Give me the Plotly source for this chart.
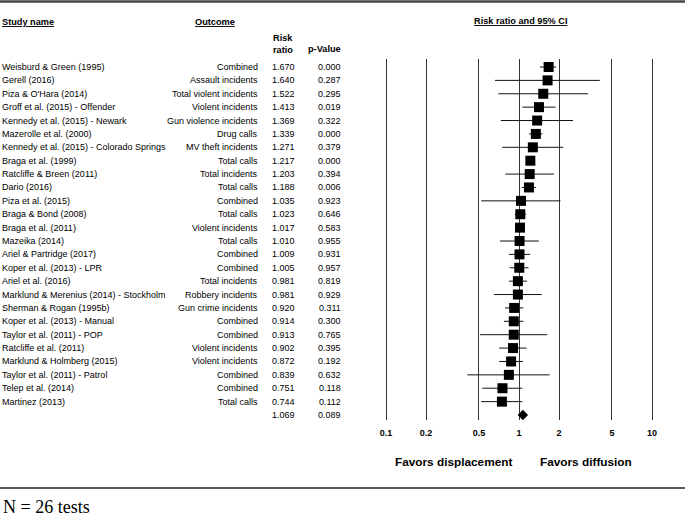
import plotly.graph_objects as go

studies = [
    "Weisburd & Green (1995)", "Gerell (2016)", "Piza & O'Hara (2014)",
    "Groff et al. (2015) - Offender", "Kennedy et al. (2015) - Newark",
    "Mazerolle et al. (2000)", "Kennedy et al. (2015) - Colorado Springs",
    "Braga et al. (1999)", "Ratcliffe & Breen (2011)", "Dario (2016)",
    "Piza et al. (2015)", "Braga & Bond (2008)", "Braga et al. (2011)",
    "Mazeika (2014)", "Ariel & Partridge (2017)", "Koper et al. (2013) - LPR",
    "Ariel et al. (2016)", "Marklund & Merenius (2014) - Stockholm",
    "Sherman & Rogan (1995b)", "Koper et al. (2013) - Manual",
    "Taylor et al. (2011) - POP", "Ratcliffe et al. (2011)",
    "Marklund & Holmberg (2015)", "Taylor et al. (2011) - Patrol",
    "Telep et al. (2014)", "Martinez (2013)",
]
outcomes = [
    "Combined", "Assault incidents", "Total violent incidents", "Violent incidents",
    "Gun violence incidents", "Drug calls", "MV theft incidents", "Total calls",
    "Total incidents", "Total calls", "Combined", "Total calls", "Violent incidents",
    "Total calls", "Combined", "Combined", "Total incidents", "Robbery incidents",
    "Gun crime incidents", "Combined", "Combined", "Violent incidents",
    "Violent incidents", "Combined", "Combined", "Total calls",
]
risk_ratio = [1.670, 1.640, 1.522, 1.413, 1.369, 1.339, 1.271, 1.217, 1.203, 1.188,
              1.035, 1.023, 1.017, 1.010, 1.009, 1.005, 0.981, 0.981, 0.920, 0.914,
              0.913, 0.902, 0.872, 0.839, 0.751, 0.744]
p_value = ["0.000", "0.287", "0.295", "0.019", "0.322", "0.000", "0.379", "0.000",
           "0.394", "0.006", "0.923", "0.646", "0.583", "0.955", "0.931", "0.957",
           "0.819", "0.929", "0.311", "0.300", "0.765", "0.395", "0.192", "0.632",
           "0.118", "0.112"]
ci_lower = [1.44, 0.66, 0.70, 1.06, 0.73, 1.19, 0.75, 1.13, 0.79, 1.05,
            0.52, 0.93, 0.96, 0.72, 0.84, 0.85, 0.84, 0.65, 0.785, 0.77,
            0.51, 0.71, 0.71, 0.41, 0.53, 0.52]
ci_upper = [1.90, 4.05, 3.31, 1.88, 2.55, 1.50, 2.15, 1.31, 1.83, 1.34,
            2.05, 1.13, 1.08, 1.41, 1.21, 1.18, 1.15, 1.48, 1.08, 1.08,
            1.63, 1.14, 1.07, 1.70, 1.06, 1.06]
summary_rr = 1.069
summary_p = "0.089"
tick_values = [0.1, 0.2, 0.5, 1, 2, 5, 10]
tick_labels = ["0.1", "0.2", "0.5", "1", "2", "5", "10"]

W, H = 685, 521
SANS = "Liberation Sans, Arial, sans-serif"
n = len(studies)
rows = list(range(n))
summary_row = n

def px(x):
    return x / W

def py(y):
    return 1 - y / H

fig = go.Figure()

fig.add_trace(go.Scatter(
    x=risk_ratio, y=rows, mode="markers",
    marker=dict(symbol="square", size=10, color="black", line=dict(width=0)),
    error_x=dict(type="data", symmetric=False,
                 array=[u - r for u, r in zip(ci_upper, risk_ratio)],
                 arrayminus=[r - l for l, r in zip(ci_lower, risk_ratio)],
                 color="#111111", thickness=1, width=0),
    showlegend=False, hoverinfo="skip",
))
fig.add_trace(go.Scatter(
    x=[summary_rr], y=[summary_row], mode="markers",
    marker=dict(symbol="diamond", size=8, color="black", line=dict(width=0)),
    showlegend=False, hoverinfo="skip",
))

# Axis geometry: 0.1 at x=386px, 10 at x=652px; plot area y 59..420px
per_px = 2 / 266
left_px, right_px = 360, 680
x_range = [-1 - (386 - left_px) * per_px, 1 + (right_px - 652) * per_px]
pitch = (415 - 67) / 26
y_top = -(67 - 59) / pitch
y_bot = (420 - 67) / pitch

fig.update_xaxes(
    type="log", range=x_range, domain=[px(left_px), px(right_px)],
    tickvals=tick_values, ticktext=tick_labels,
    showgrid=True, gridcolor="#333333", gridwidth=1,
    showline=False, zeroline=False, ticks="",
    tickfont=dict(family=SANS, size=9, color="black", weight="bold"),
    ticklabelstandoff=6,
)
fig.update_yaxes(
    range=[y_bot, y_top], domain=[py(420), py(59)],
    visible=False, showgrid=False, zeroline=False,
)

P_RIGHT = 341
ann = []
body = dict(family=SANS, size=9, color="black")
for i in rows:
    ann.append(dict(x=px(2), y=i, xref="paper", yref="y", text=studies[i],
                    xanchor="left", yanchor="middle", showarrow=False, font=body))
    ann.append(dict(x=px(258), y=i, xref="paper", yref="y", text=outcomes[i],
                    xanchor="right", yanchor="middle", showarrow=False, font=body))
    ann.append(dict(x=px(295), y=i, xref="paper", yref="y", text=f"{risk_ratio[i]:.3f}",
                    xanchor="right", yanchor="middle", showarrow=False, font=body))
    ann.append(dict(x=px(P_RIGHT), y=i, xref="paper", yref="y", text=p_value[i],
                    xanchor="right", yanchor="middle", showarrow=False, font=body))
ann.append(dict(x=px(295), y=summary_row, xref="paper", yref="y", text=f"{summary_rr:.3f}",
                xanchor="right", yanchor="middle", showarrow=False, font=body))
ann.append(dict(x=px(P_RIGHT), y=summary_row, xref="paper", yref="y", text=summary_p,
                xanchor="right", yanchor="middle", showarrow=False, font=body))

head = dict(family=SANS, size=9.2, color="black", weight="bold")
ann += [
    dict(x=px(2), y=py(22), text="<u>Study name</u>", xanchor="left", font=head),
    dict(x=px(214.5), y=py(22), text="<u>Outcome</u>", xanchor="center", font=head),
    dict(x=px(273), y=py(44), text="Risk<br>ratio", xanchor="left", align="left", font=head),
    dict(x=px(P_RIGHT), y=py(49), text="p-Value", xanchor="right", font=head),
    dict(x=px(520), y=py(21), text="<u>Risk ratio and 95% CI</u>", xanchor="center", font=head),
    dict(x=px(453.5), y=py(462), text="Favors displacement", xanchor="center",
         font=dict(family=SANS, size=11.8, color="black", weight="bold")),
    dict(x=px(586), y=py(462), text="Favors diffusion", xanchor="center",
         font=dict(family=SANS, size=11.8, color="black", weight="bold")),
    dict(x=px(3), y=py(507), text="N = 26 tests", xanchor="left",
         font=dict(family="Liberation Serif, Times New Roman, serif", size=18, color="black")),
]
for a in ann:
    a.setdefault("xref", "paper")
    a.setdefault("yref", "paper")
    a.setdefault("yanchor", "middle")
    a["showarrow"] = False
    a["borderpad"] = 0
    a["borderwidth"] = 0

fig.update_layout(
    width=W, height=H, autosize=False,
    margin=dict(l=0, r=0, t=0, b=0, pad=0),
    paper_bgcolor="white", plot_bgcolor="white",
    annotations=ann,
    shapes=[
        dict(type="line", xref="paper", yref="paper", x0=0, x1=1, y0=py(1.5), y1=py(1.5),
             line=dict(color="#444444", width=2.5)),
        dict(type="line", xref="paper", yref="paper", x0=0, x1=1, y0=py(488), y1=py(488),
             line=dict(color="#222222", width=1.5)),
    ],
)

fig.write_html(
    "out.html",
    config={"displayModeBar": False},
    post_script="document.body.style.margin='0';document.body.style.overflow='hidden';",
)
